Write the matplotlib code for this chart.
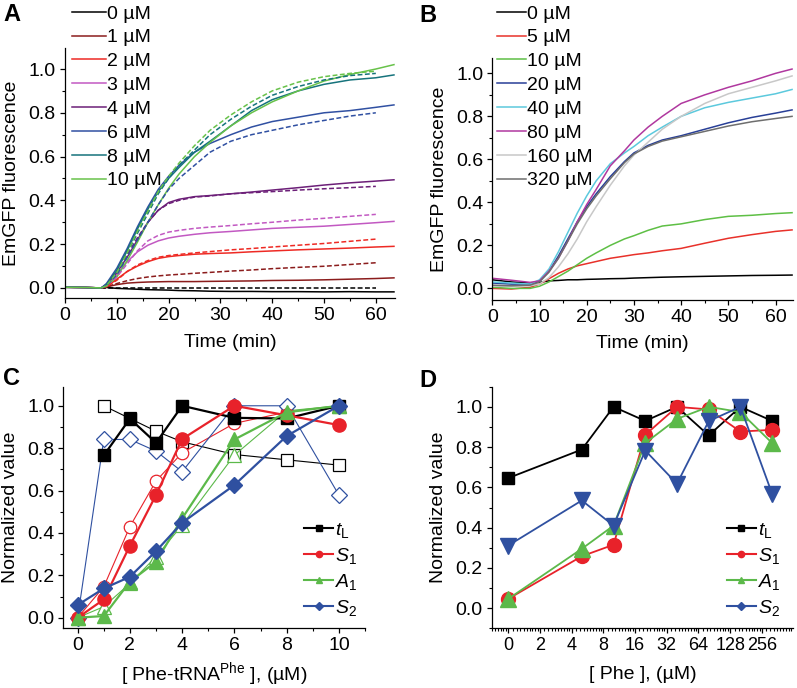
import numpy as np
import matplotlib
matplotlib.use('Agg')
import matplotlib.pyplot as plt
from matplotlib.lines import Line2D
from matplotlib.ticker import MultipleLocator, FixedLocator, FuncFormatter, NullFormatter

plt.rcParams['font.family'] = ['Liberation Sans', 'DejaVu Sans']
plt.rcParams['mathtext.fontset'] = 'custom'
plt.rcParams['mathtext.rm'] = 'Liberation Sans'
plt.rcParams['mathtext.it'] = 'Liberation Sans:italic'
plt.rcParams['mathtext.bf'] = 'Liberation Sans:bold'
plt.rcParams['font.size'] = 14

# ---------------- panel A: Phe-tRNA titration ----------------
t_a = [0, 4, 7, 8, 10, 12, 14, 16, 18, 20, 22, 25, 28, 32, 36, 40, 45, 50, 55, 60, 63.5]
a_labels = ['0 µM', '1 µM', '2 µM', '3 µM', '4 µM', '6 µM', '8 µM', '10 µM']
a_colors = ['#000000', '#8b1c1c', '#ee2a24', '#c259c2', '#6c1f78', '#3050a2', '#16737c', '#68c24a']
a_0 = [0.003, 0.002, 0.0, 0.002, -0.002, -0.004, -0.006, -0.008, -0.009, -0.01, -0.012, -0.013, -0.015, -0.016, -0.016, -0.017, -0.017, -0.018, -0.017, -0.018, -0.018]
a_1 = [0.003, 0.002, 0.0, 0.005, 0.015, 0.022, 0.025, 0.027, 0.028, 0.029, 0.029, 0.029, 0.03, 0.031, 0.032, 0.034, 0.035, 0.037, 0.04, 0.043, 0.046]
a_2 = [0.003, 0.002, 0.0, 0.005, 0.04, 0.075, 0.10, 0.12, 0.135, 0.143, 0.148, 0.154, 0.157, 0.16, 0.165, 0.169, 0.174, 0.178, 0.182, 0.187, 0.19]
a_3 = [0.003, 0.002, 0.0, 0.01, 0.06, 0.12, 0.165, 0.195, 0.215, 0.228, 0.236, 0.245, 0.252, 0.258, 0.265, 0.272, 0.277, 0.282, 0.29, 0.298, 0.304]
a_4 = [0.003, 0.002, 0.0, 0.015, 0.07, 0.14, 0.22, 0.30, 0.355, 0.39, 0.405, 0.417, 0.422, 0.43, 0.438, 0.447, 0.458, 0.47, 0.48, 0.488, 0.494]
a_6 = [0.003, 0.002, 0.0, 0.02, 0.09, 0.18, 0.28, 0.37, 0.45, 0.51, 0.56, 0.62, 0.66, 0.70, 0.735, 0.76, 0.78, 0.80, 0.81, 0.825, 0.836]
a_8 = [0.003, 0.002, 0.0, 0.015, 0.08, 0.17, 0.27, 0.36, 0.44, 0.50, 0.55, 0.62, 0.67, 0.74, 0.81, 0.86, 0.90, 0.93, 0.95, 0.96, 0.973]
a_10 = [0.003, 0.002, 0.0, 0.008, 0.05, 0.125, 0.21, 0.30, 0.38, 0.455, 0.52, 0.60, 0.665, 0.74, 0.80, 0.85, 0.90, 0.945, 0.975, 1.0, 1.02]
a_data = [a_0, a_1, a_2, a_3, a_4, a_6, a_8, a_10]

# fitted curves (dashed)
t_fit = [7, 8, 10, 12, 14, 16, 18, 20, 22, 25, 28, 32, 36, 40, 45, 50, 55, 60]
f_0 = [0.0] * 18
f_1 = [0.0, 0.005, 0.02, 0.033, 0.043, 0.05, 0.055, 0.059, 0.062, 0.067, 0.071, 0.077, 0.082, 0.088, 0.094, 0.099, 0.107, 0.115]
f_2 = [0.0, 0.005, 0.035, 0.075, 0.105, 0.125, 0.14, 0.148, 0.153, 0.16, 0.166, 0.174, 0.18, 0.187, 0.195, 0.203, 0.213, 0.223]
f_3 = [0.0, 0.01, 0.05, 0.11, 0.17, 0.215, 0.24, 0.255, 0.263, 0.272, 0.278, 0.285, 0.293, 0.30, 0.31, 0.318, 0.327, 0.336]
f_4 = [0.0, 0.01, 0.07, 0.15, 0.23, 0.30, 0.355, 0.385, 0.40, 0.415, 0.42, 0.43, 0.435, 0.44, 0.447, 0.453, 0.458, 0.464]
f_6 = [0.0, 0.01, 0.06, 0.14, 0.22, 0.30, 0.38, 0.45, 0.50, 0.56, 0.62, 0.67, 0.70, 0.72, 0.745, 0.765, 0.785, 0.80]
f_8 = [0.0, 0.01, 0.07, 0.16, 0.25, 0.34, 0.43, 0.50, 0.56, 0.63, 0.70, 0.77, 0.83, 0.88, 0.92, 0.95, 0.97, 0.98]
f_10 = [0.0, 0.01, 0.07, 0.16, 0.26, 0.35, 0.44, 0.51, 0.57, 0.65, 0.72, 0.79, 0.85, 0.90, 0.94, 0.965, 0.98, 0.99]
f_data = [f_0, f_1, f_2, f_3, f_4, f_6, f_8, f_10]

# ---------------- panel B: Phe titration ----------------
t_b = [0, 4, 8, 10, 12, 14, 16, 18, 20, 22, 25, 28, 30, 33, 36, 40, 45, 50, 55, 60, 63.5]
b_labels = ['0 µM', '5 µM', '10 µM', '20 µM', '40 µM', '80 µM', '160 µM', '320 µM']
b_colors = ['#000000', '#e8312a', '#5ebf45', '#283f97', '#5cc9dd', '#b0389f', '#c8c8c8', '#6e6e6e']
b_0 = [0.04, 0.03, 0.025, 0.028, 0.035, 0.037, 0.04, 0.04, 0.042, 0.043, 0.045, 0.046, 0.048, 0.05, 0.052, 0.054, 0.056, 0.058, 0.06, 0.061, 0.062]
b_5 = [0.0, -0.003, 0.005, 0.02, 0.045, 0.07, 0.09, 0.105, 0.115, 0.125, 0.14, 0.15, 0.157, 0.165, 0.175, 0.186, 0.21, 0.233, 0.25, 0.265, 0.272]
b_10 = [0.005, 0.0, 0.0, 0.01, 0.03, 0.055, 0.08, 0.11, 0.14, 0.165, 0.20, 0.23, 0.245, 0.27, 0.29, 0.30, 0.32, 0.335, 0.34, 0.348, 0.352]
b_20 = [0.025, 0.02, 0.02, 0.035, 0.08, 0.15, 0.23, 0.31, 0.38, 0.44, 0.52, 0.59, 0.63, 0.665, 0.69, 0.71, 0.74, 0.77, 0.795, 0.815, 0.83]
b_40 = [0.03, 0.025, 0.02, 0.04, 0.09, 0.17, 0.26, 0.35, 0.43, 0.50, 0.58, 0.63, 0.66, 0.71, 0.75, 0.80, 0.84, 0.865, 0.885, 0.905, 0.925]
b_80 = [0.047, 0.038, 0.028, 0.035, 0.08, 0.14, 0.22, 0.31, 0.39, 0.46, 0.57, 0.64, 0.69, 0.75, 0.80, 0.86, 0.90, 0.935, 0.965, 1.0, 1.02]
b_160 = [0.01, 0.01, 0.012, 0.02, 0.05, 0.10, 0.16, 0.23, 0.31, 0.38, 0.48, 0.57, 0.62, 0.68, 0.74, 0.80, 0.86, 0.905, 0.935, 0.965, 0.988]
b_320 = [0.015, 0.012, 0.015, 0.03, 0.075, 0.14, 0.22, 0.30, 0.37, 0.43, 0.51, 0.585, 0.625, 0.66, 0.685, 0.705, 0.73, 0.755, 0.775, 0.79, 0.80]
b_data = [b_0, b_5, b_10, b_20, b_40, b_80, b_160, b_320]

# ---------------- panel C: parameters vs Phe-tRNA ----------------
c_x = [0, 1, 2, 3, 4, 6, 8, 10]
c_tl = [None, 0.766, 0.939, 0.825, 1.0, 0.943, 0.94, 1.0]
c_s1 = [0.0, 0.086, 0.34, 0.579, 0.843, 1.0, 0.955, 0.909]
c_a1 = [0.0, 0.008, 0.17, 0.264, 0.469, 0.841, 0.969, 1.0]
c_s2 = [0.06, 0.138, 0.193, 0.314, 0.448, 0.626, 0.857, 1.0]
# open symbols (second data set)
c_tl_o = [None, 1.0, 0.94, 0.88, 0.83, 0.77, 0.745, 0.72]
c_s1_o = [0.0, 0.146, 0.43, 0.645, 0.778, 0.917, 0.97, 1.0]
c_a1_o = [0.0, 0.052, 0.162, 0.288, 0.437, 0.767, 0.976, 1.0]
c_s2_o = [0.0, 0.841, 0.841, 0.786, 0.689, 1.0, 1.0, 0.579]

# ---------------- panel D: parameters vs Phe ----------------
d_phe = [0, 5, 10, 20, 40, 80, 160, 320]
d_tl = [0.646, 0.788, 1.0, 0.93, 1.0, 0.858, 1.0, 0.93]
d_s1 = [0.046, 0.258, 0.315, 0.861, 1.0, 0.987, 0.877, 0.886]
d_a1 = [0.046, 0.295, 0.41, 0.82, 0.94, 1.0, 0.974, 0.82]
d_s2 = [0.311, 0.535, 0.41, 0.783, 0.618, 0.929, 1.0, 0.568]
d_ticks = [1, 2, 4, 8, 16, 32, 64, 128, 256]
d_ticklabels = ['0', '2', '4', '8', '16', '32', '64', '128', '256']

c_black, c_red, c_green, c_blue = '#000000', '#e8222a', '#5cb94a', '#2f50a0'
leg_names = [r'$t_{\rm L}$', r'$S_{\rm 1}$', r'$A_{\rm 1}$', r'$S_{\rm 2}$']

W, H = 797, 688
fig = plt.figure(figsize=(W / 100, H / 100), dpi=100)


def px_axes(l, t, r, b):
    return fig.add_axes([l / W, 1 - b / H, (r - l) / W, (b - t) / H])


def style(ax):
    for s in ['top', 'right']:
        ax.spines[s].set_visible(False)
    for s in ['left', 'bottom']:
        ax.spines[s].set_linewidth(0.9)
    ax.tick_params(which='major', direction='out', length=3.6, width=0.9, labelsize=14, pad=3)
    ax.tick_params(which='minor', direction='out', length=2.2, width=0.8)
    ax.yaxis.set_major_locator(MultipleLocator(0.2))
    ax.yaxis.set_minor_locator(MultipleLocator(0.1))
    ax.yaxis.set_major_formatter(FuncFormatter(lambda v, p: '%.1f' % v))


def top_legend(ax, x_left, hl):
    ax.legend(loc='upper left', bbox_to_anchor=(x_left / W, 1 - 5 / H), bbox_transform=fig.transFigure,
              frameon=False, borderpad=0, borderaxespad=0, handlelength=hl, handletextpad=0.05,
              labelspacing=0.32, fontsize=14)


# A
axA = px_axes(65, 48, 395, 298)
style(axA)
for i in range(len(a_data)):
    axA.plot(t_a, a_data[i], color=a_colors[i], lw=1.1, label=a_labels[i])
for i in range(len(f_data)):
    axA.plot(t_fit, f_data[i], color=a_colors[i], lw=1.1, ls=(0, (3.2, 1.6)))
axA.set_xlim(0, 63.7)
axA.set_ylim(-0.046, 1.096)
axA.xaxis.set_major_locator(MultipleLocator(10))
axA.xaxis.set_minor_locator(MultipleLocator(5))
axA.set_xlabel('Time (min)', fontsize=14, labelpad=7)
axA.set_ylabel('EmGFP fluorescence', fontsize=14, labelpad=6)
top_legend(axA, 72, 1.75)

# B
axB = px_axes(492.3, 58.3, 793, 300)
style(axB)
for i in range(len(b_data)):
    axB.plot(t_b, b_data[i], color=b_colors[i], lw=1.1, label=b_labels[i])
axB.set_xlim(0, 63.7)
axB.set_ylim(-0.054, 1.07)
axB.xaxis.set_major_locator(MultipleLocator(10))
axB.xaxis.set_minor_locator(MultipleLocator(5))
axB.set_xlabel('Time (min)', fontsize=14, labelpad=6)
axB.set_ylabel('EmGFP fluorescence', fontsize=14, labelpad=6)
top_legend(axB, 496.7, 1.5)


def legend_handles(color_list, markers):
    return [Line2D([], [], color=c, lw=1.5, marker=m, ms=4.5, mfc=c, mec=c)
            for c, m in zip(color_list, markers)]


def small_legend(ax, x_left):
    ax.legend(legend_handles([c_black, c_red, c_green, c_blue], ['s', 'o', '^', 'D']), leg_names,
              loc='upper left', bbox_to_anchor=(x_left / W, 1 - 521 / H), bbox_transform=fig.transFigure,
              frameon=False, borderpad=0, borderaxespad=0, handlelength=1.5, handletextpad=0.1,
              labelspacing=0.3, fontsize=14)


# C
axC = px_axes(63.3, 386.7, 365, 628.3)
style(axC)
cx = np.array(c_x, dtype=float)
for ys, col, m, ms in [(c_tl_o, c_black, 's', 9), (c_s1_o, c_red, 'o', 9),
                       (c_a1_o, c_green, '^', 10), (c_s2_o, c_blue, 'D', 8)]:
    y = np.array([np.nan if v is None else v for v in ys])
    axC.plot(cx, y, color=col, lw=0.8, marker=m, ms=ms, mfc='white', mec=col, mew=0.9, zorder=2)
for ys, col, m, ms in [(c_tl, c_black, 's', 9), (c_s1, c_red, 'o', 9.5),
                       (c_a1, c_green, '^', 10.5), (c_s2, c_blue, 'D', 8.5)]:
    y = np.array([np.nan if v is None else v for v in ys])
    axC.plot(cx, y, color=col, lw=1.6, marker=m, ms=ms, mfc=col, mec=col, zorder=3)
axC.set_xlim(-0.55, 11.0)
axC.set_ylim(-0.05, 1.09)
axC.xaxis.set_major_locator(MultipleLocator(2))
axC.xaxis.set_minor_locator(MultipleLocator(1))
axC.set_xlabel(r'[ Phe-tRNA$^{\rm Phe}$ ], (µM)', fontsize=14, labelpad=4)
axC.set_ylabel('Normalized value', fontsize=14, labelpad=6)
small_legend(axC, 304)

# D
axD = px_axes(491.7, 386.7, 793, 628.3)
style(axD)
axD.set_xscale('log', base=2)
dx = np.array(d_phe, dtype=float)
dx[dx == 0] = 1  # "0" is drawn at the first log2 position
for ys, col, m, ms in [(d_tl, c_black, 's', 9), (d_s1, c_red, 'o', 10),
                       (d_a1, c_green, '^', 11), (d_s2, c_blue, 'v', 11)]:
    axD.plot(dx, ys, color=col, lw=1.3, marker=m, ms=ms, mfc=col, mec=col)
axD.set_xlim(2 ** -0.52, 2 ** 8.98)
axD.set_ylim(-0.1, 1.1)
axD.xaxis.set_major_locator(FixedLocator(d_ticks))
axD.xaxis.set_major_formatter(FuncFormatter(lambda v, p: d_ticklabels[d_ticks.index(v)] if v in d_ticks else ''))
minor = [2.0 ** k * s for k in range(-1, 9) for s in np.arange(1.1, 2.0, 0.1)]
axD.xaxis.set_minor_locator(FixedLocator(minor))
axD.xaxis.set_minor_formatter(NullFormatter())
axD.tick_params(axis='x', which='major', labelsize=13)
axD.set_xlabel('[ Phe ], (µM)', fontsize=14, labelpad=8)
axD.set_ylabel('Normalized value', fontsize=14, labelpad=6)
small_legend(axD, 726.7)

for lab, x, y in [('A', 3, 3), ('B', 419, 4), ('C', 3, 367), ('D', 419, 369)]:
    fig.text(x / W, 1 - y / H, lab, fontsize=17, fontweight='bold', va='top', ha='left')

fig.savefig('out.png', dpi=100)
